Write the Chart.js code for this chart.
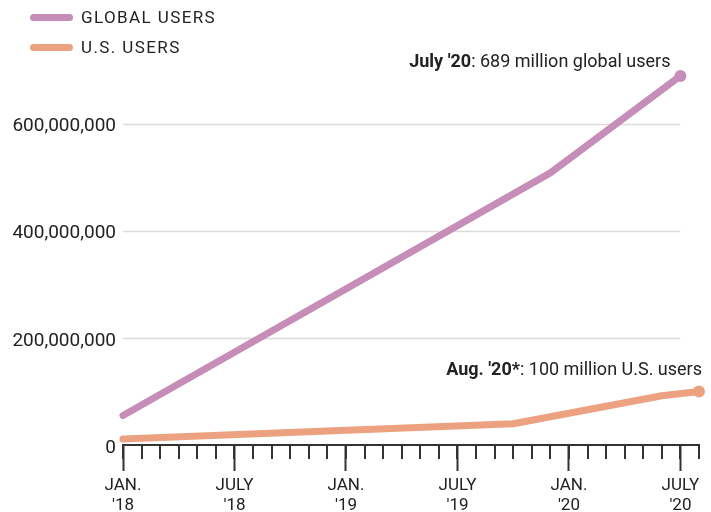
<!DOCTYPE html>
<html>
<head>
<meta charset="utf-8">
<script src="https://cdn.jsdelivr.net/npm/chart.js@4.4.1/dist/chart.umd.min.js"></script>
<style>
  html, body { margin: 0; padding: 0; background: #fff; }
  #wrap { position: relative; width: 711px; height: 512px; }
  canvas { position: absolute; left: 0; top: 0; }
  .leg { position: absolute; left: 30px; display: flex; align-items: center; font-family: Roboto, sans-serif; font-size: 17px; letter-spacing: 1.4px; color: #222; }
  .leg .sw { width: 43px; height: 7px; border-radius: 4px; margin-right: 8px; }
</style>
</head>
<body>
<div id="wrap">
  <canvas id="c" width="711" height="512"></canvas>
</div>
<script>
// ---- data (months counted from Jan 2018 = 0) ----
const seriesNames = ['GLOBAL USERS', 'U.S. USERS'];
const seriesColors = ['#c58db8', '#eca280'];
const globalMonths = [0, 23, 30];
const globalUsers = [55000000, 508000000, 689000000];
const usMonths = [0, 21, 29, 31];
const usUsers = [11200000, 39600000, 92000000, 100000000];
const xTickMonths = [0, 6, 12, 18, 24, 30];
const xTickLabels = [["JAN.", "'18"], ["JULY", "'18"], ["JAN.", "'19"], ["JULY", "'19"], ["JAN.", "'20"], ["JULY", "'20"]];
const yTickValues = [0, 200000000, 400000000, 600000000];
const notes = [
  { bold: "July '20", rest: ": 689 million global users" },
  { bold: "Aug. '20*", rest: ": 100 million U.S. users" }
];

// ---- HTML legend ----
const wrap = document.getElementById('wrap');
seriesNames.forEach((n, i) => {
  const d = document.createElement('div');
  d.className = 'leg';
  d.style.top = (6 + i * 30) + 'px';
  d.style.height = '22px';
  const sw = document.createElement('span');
  sw.className = 'sw';
  sw.style.background = seriesColors[i];
  const t = document.createElement('span');
  t.textContent = n;
  d.appendChild(sw); d.appendChild(t);
  wrap.appendChild(d);
});

const FONT = 'Roboto, sans-serif';

const decoPlugin = {
  id: 'deco',
  beforeDatasetsDraw(chart) {
    const { ctx, chartArea } = chart;
    const xs = chart.scales.x, ys = chart.scales.y;
    const xEnd = xs.getPixelForValue(30);
    ctx.save();
    ctx.strokeStyle = '#dcdcdc';
    ctx.lineWidth = 1.5;
    yTickValues.forEach(v => {
      if (v === 0) return;
      const y = Math.round(ys.getPixelForValue(v)) + 0.5;
      ctx.beginPath();
      ctx.moveTo(chartArea.left, y);
      ctx.lineTo(xEnd, y);
      ctx.stroke();
    });
    // minor monthly ticks
    ctx.strokeStyle = '#333';
    ctx.lineWidth = 2;
    const y0 = chartArea.bottom;
    for (let m = 0; m <= 31; m++) {
      const x = Math.round(xs.getPixelForValue(m));
      ctx.beginPath();
      ctx.moveTo(x, y0);
      ctx.lineTo(x, y0 + 14);
      ctx.stroke();
    }
    ctx.restore();
  },
  afterDatasetsDraw(chart) {
    const { ctx } = chart;
    const xs = chart.scales.x, ys = chart.scales.y;
    const pts = [
      { x: xs.getPixelForValue(globalMonths[globalMonths.length - 1]) - 10, y: ys.getPixelForValue(globalUsers[globalUsers.length - 1]) - 13 },
      { x: xs.getPixelForValue(usMonths[usMonths.length - 1]) + 3, y: ys.getPixelForValue(usUsers[usUsers.length - 1]) - 21 }
    ];
    ctx.save();
    ctx.textBaseline = 'middle';
    ctx.fillStyle = '#222';
    notes.forEach((n, i) => {
      ctx.font = '18px ' + FONT;
      const wr = ctx.measureText(n.rest).width;
      ctx.font = 'bold 18px ' + FONT;
      const wb = ctx.measureText(n.bold).width;
      const x0 = pts[i].x - wr - wb;
      ctx.fillStyle = 'rgba(255,255,255,0.9)';
      ctx.fillRect(x0 - 3, pts[i].y - 11, wr + wb + 6, 22);
      ctx.fillStyle = '#222';
      ctx.textAlign = 'left';
      ctx.fillText(n.bold, x0, pts[i].y);
      ctx.font = '18px ' + FONT;
      ctx.fillText(n.rest, x0 + wb, pts[i].y);
    });
    ctx.restore();
  }
};

const lastOnly = (ctx) => ctx.dataIndex === ctx.dataset.data.length - 1 ? 6 : 0;

new Chart(document.getElementById('c'), {
  type: 'line',
  data: {
    datasets: [
      {
        label: seriesNames[0],
        data: globalMonths.map((m, i) => ({ x: m, y: globalUsers[i] })),
        borderColor: seriesColors[0],
        backgroundColor: seriesColors[0],
        borderWidth: 7,
        borderCapStyle: 'round',
        borderJoinStyle: 'round',
        pointRadius: lastOnly,
        pointBorderWidth: 0,
        clip: false,
        tension: 0
      },
      {
        label: seriesNames[1],
        data: usMonths.map((m, i) => ({ x: m, y: usUsers[i] })),
        borderColor: seriesColors[1],
        backgroundColor: seriesColors[1],
        borderWidth: 7,
        borderCapStyle: 'round',
        borderJoinStyle: 'round',
        pointRadius: lastOnly,
        pointBorderWidth: 0,
        clip: false,
        tension: 0
      }
    ]
  },
  options: {
    responsive: false,
    animation: false,
    devicePixelRatio: 1,
    layout: { padding: { top: 70, right: 12, left: 0, bottom: 0 } },
    plugins: { legend: { display: false }, tooltip: { enabled: false } },
    scales: {
      x: {
        type: 'linear',
        min: 0, max: 31,
        afterFit(scale) { scale.height = 67; },
        afterBuildTicks(scale) {
          const t = [];
          for (let m = 0; m <= 31; m++) t.push({ value: m });
          scale.ticks = t;
        },
        border: { display: true, color: '#333', width: 2 },
        grid: {
          drawOnChartArea: false,
          drawTicks: true,
          tickLength: 26,
          tickWidth: 2,
          tickColor: (c) => (c.tick && xTickMonths.includes(c.tick.value)) ? '#333' : 'rgba(0,0,0,0)'
        },
        ticks: {
          autoSkip: false,
          maxRotation: 0,
          padding: 5,
          color: '#222',
          font: { family: FONT, size: 17, lineHeight: 1.15 },
          callback(v) {
            const k = xTickMonths.indexOf(v);
            return k >= 0 ? xTickLabels[k] : '';
          }
        }
      },
      y: {
        min: 0, max: 700000000,
        afterFit(scale) { scale.width = 123; },
        afterBuildTicks(scale) { scale.ticks = yTickValues.map(v => ({ value: v })); },
        border: { display: false },
        grid: { display: false, drawTicks: false },
        ticks: {
          padding: 7,
          labelOffset: 3,
          color: '#222',
          font: { family: FONT, size: 19 },
          callback(v) { return v.toLocaleString('en-US'); }
        }
      }
    }
  },
  plugins: [decoPlugin]
});
</script>
</body>
</html>
